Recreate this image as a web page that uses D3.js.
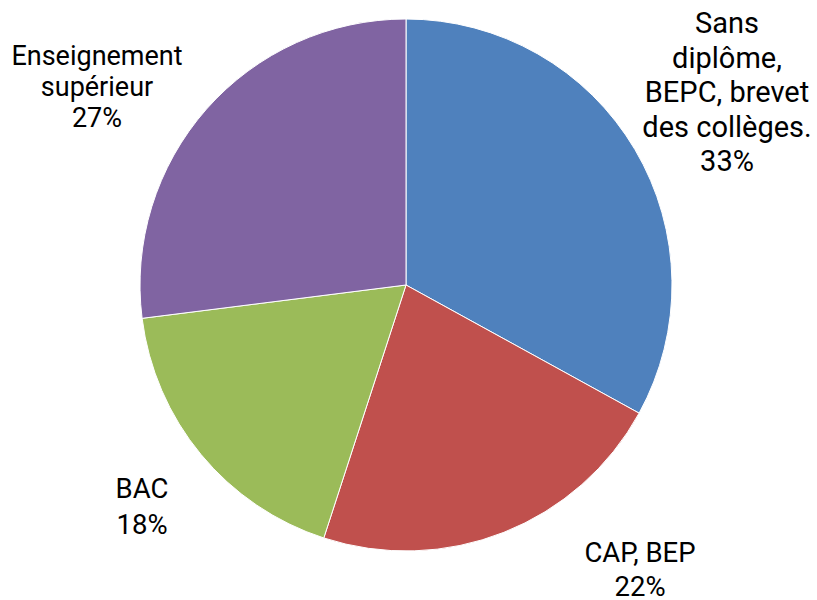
<!DOCTYPE html>
<html>
<head>
<meta charset="utf-8">
<script src="https://cdn.jsdelivr.net/npm/d3@7"></script>
<style>
  body { margin: 0; background: #fff; }
  text { font-family: Roboto, "Noto Sans", sans-serif; fill: #000; }
</style>
</head>
<body>
<svg id="chart" width="817" height="600"></svg>
<script>
// data
var categories = ["Sans diplôme, BEPC, brevet des collèges.", "CAP, BEP", "BAC", "Enseignement supérieur"];
var values = [33, 22, 18, 27];
var colors = ["#4F81BD", "#C0504D", "#9BBB59", "#8064A2"];
// label lines as they are wrapped in the chart
var labelLines = [
    ["Sans", "diplôme,", "BEPC, brevet", "des collèges.", "33%"],
    ["CAP, BEP", "22%"],
    ["BAC", "18%"],
    ["Enseignement", "supérieur", "27%"]
];

var svg = d3.select("#chart");
var cx = 406, cy = 285, radius = 266;

var pie = d3.pie().sort(null).value(function(d) { return d; });
var arc = d3.arc().innerRadius(0).outerRadius(radius);
var arcs = pie(values);

var g = svg.append("g").attr("transform", "translate(" + cx + "," + cy + ")");

g.selectAll("path.slice")
    .data(arcs)
    .enter().append("path")
    .attr("class", "slice")
    .attr("d", arc)
    .attr("fill", function(d, i) { return colors[i]; })
    .attr("stroke", "#fff")
    .attr("stroke-width", 1);

// labels sit outside the pie
var labelPos = [
    {x: 727, y: 33, size: 29, lh: 34.5},
    {x: 640, y: 562, size: 27.5, lh: 34},
    {x: 142, y: 498, size: 27.5, lh: 36},
    {x: 97, y: 65, size: 27, lh: 31}
];

labelLines.forEach(function(lines, i) {
    var p = labelPos[i];
    var t = svg.append("text")
        .attr("text-anchor", "middle")
        .attr("font-size", p.size + "px")
        .attr("x", p.x)
        .attr("y", p.y);
    lines.forEach(function(line, j) {
        t.append("tspan")
            .attr("x", p.x)
            .attr("y", p.y + j * p.lh)
            .text(line);
    });
});
</script>
</body>
</html>
